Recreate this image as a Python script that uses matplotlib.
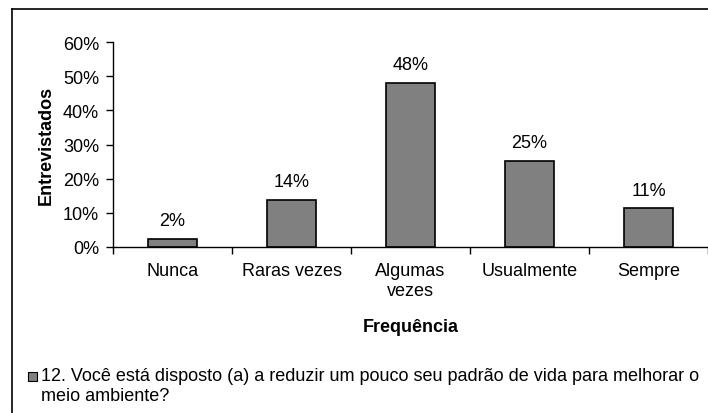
import numpy as np
import matplotlib.pyplot as plt
from matplotlib.lines import Line2D
from matplotlib.patches import Rectangle

plt.rcParams['font.family'] = ['Liberation Sans', 'DejaVu Sans']

# Data
categories = ['Nunca', 'Raras vezes', 'Algumas\nvezes', 'Usualmente', 'Sempre']
values = [2.4, 13.8, 48.0, 25.2, 11.3]
labels = ['2%', '14%', '48%', '25%', '11%']
yticks = [0, 10, 20, 30, 40, 50, 60]
legend_text = ('12. Você está disposto (a) a reduzir um pouco seu padrão de vida para melhorar o\n'
               'meio ambiente?')

fs = 13

fig = plt.figure(figsize=(7.08, 4.14), dpi=100)
ax = fig.add_axes([113/708, 1 - 248/414, 595/708, 205/414])

x = np.arange(len(categories))
ax.bar(x, values, width=0.41, color='#808080', edgecolor='black', linewidth=1.2, zorder=3)

for xi, v, lab in zip(x, values, labels):
    ax.annotate(lab, (xi, v), xytext=(0, 7), textcoords='offset points',
                ha='center', va='bottom', fontsize=fs)

ax.set_xlim(-0.5, len(categories) - 0.5)
ax.set_ylim(0, 60)
ax.set_yticks(yticks)
ax.set_yticklabels([f'{t}%' for t in yticks], fontsize=fs)
ax.set_xticks(x)
ax.set_xticklabels(categories, fontsize=fs, linespacing=1.2)
ax.set_xticks(np.arange(len(categories) + 1) - 0.5, minor=True)
ax.tick_params(axis='x', which='major', length=0, pad=11)
ax.tick_params(axis='x', which='minor', length=5, width=1, direction='out')
ax.tick_params(axis='y', length=5, width=1, pad=5)

for side in ['top', 'right']:
    ax.spines[side].set_visible(False)
ax.spines['left'].set_linewidth(1)
ax.spines['bottom'].set_linewidth(1)

ax.set_xlabel('Frequência', fontsize=fs, fontweight='bold', labelpad=14)
ax.set_ylabel('Entrevistados', fontsize=fs, fontweight='bold', labelpad=6)

# outer chart frame (only left and top edges are visible in the crop)
fig.add_artist(Line2D([12/708, 12/708], [0, 1 - 10/414], color='black', lw=1.2,
                      transform=fig.transFigure))
fig.add_artist(Line2D([12/708, 1], [1 - 10/414, 1 - 10/414], color='black', lw=1.2,
                      transform=fig.transFigure))

# legend
fig.add_artist(Rectangle((28/708, 1 - 382/414), 9/708, 9/414, facecolor='#808080',
                         edgecolor='black', lw=0.8, transform=fig.transFigure))
fig.text(41/708, 1 - 368/414, legend_text, fontsize=fs, va='top', ha='left',
         linespacing=1.2)

fig.savefig('out.png', dpi=100)
